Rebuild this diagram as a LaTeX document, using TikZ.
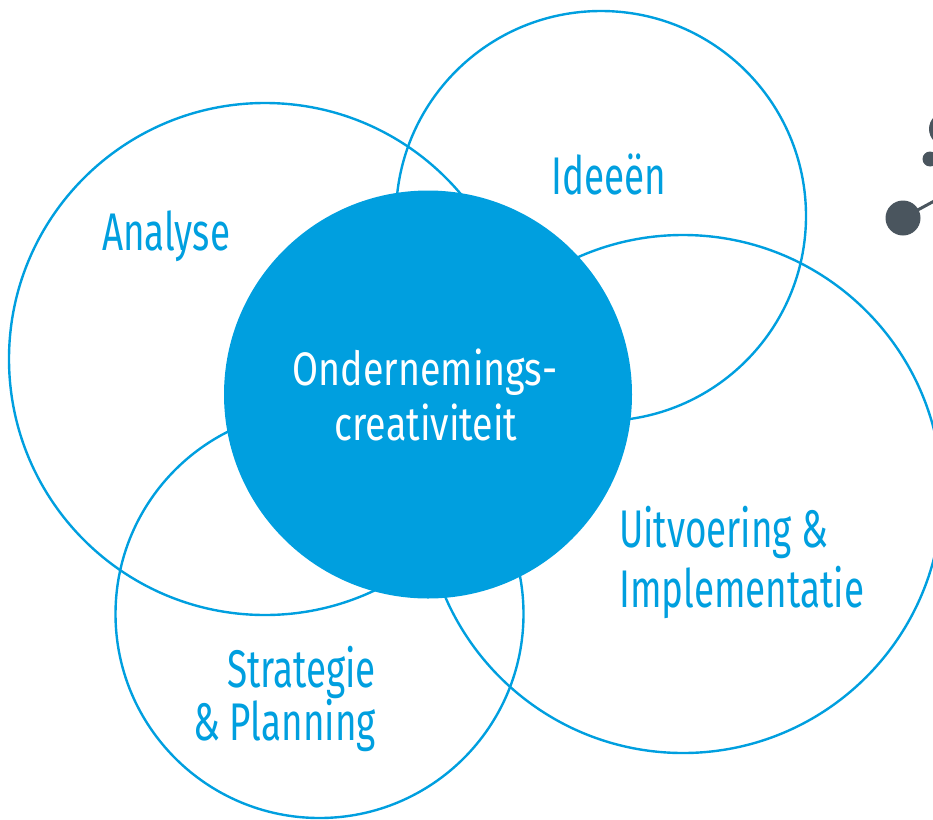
\documentclass[tikz,border=0pt]{standalone}
\usepackage{fontspec}
\setmainfont{Fira Sans}[FakeStretch=0.695]
\newfontfamily\wfont{Fira Sans}[FakeStretch=0.80]
\definecolor{cblue}{HTML}{009FDF}
\definecolor{cgray}{HTML}{4A555E}
\tikzset{
  ring/.style={draw=cblue, line width=2.4pt},
  lbl/.style={text=cblue, inner sep=0pt, font=\fontsize{53}{55}\selectfont},
  wlbl/.style={text=white, inner sep=0pt, font=\wfont\fontsize{47}{50}\selectfont},
  dot/.style={fill=cgray, draw=none},
}
\begin{document}
\begin{tikzpicture}[x=1pt,y=-1pt]
\useasboundingbox (0,0) rectangle (933,819);
\clip (0,0) rectangle (933,819);
% outline circles
\draw[ring] (265,359) circle[radius=256];
\draw[ring] (601,216) circle[radius=205];
\draw[ring] (683,494) circle[radius=259];
\draw[ring] (319.5,614) circle[radius=204];
% central circle
\fill[cblue] (428,394.5) circle[radius=204];
% labels
\node[lbl, anchor=base west] (analyse) at (102,250) {Analyse};
\node[lbl, anchor=base west] (ideeen) at (551,194) {Ideeën};
\node[wlbl, anchor=base] (ond1) at (425,385) {Ondernemings-};
\node[wlbl, anchor=base] (ond2) at (426,440) {creativiteit};
\node[lbl, anchor=base west] (uit1) at (619,547) {Uitvoering \&};
\node[lbl, anchor=base west] (uit2) at (619,607) {Implementatie};
\node[lbl, anchor=base east] (str1) at (376,687) {Strategie};
\node[lbl, anchor=base east] (str2) at (376,740) {\& Planning};
% dots at top right
\coordinate (lineend) at (960,187);
\node[dot, circle, minimum size=35pt, inner sep=0pt] (bigdot) at (903,218) {};
\draw[cgray, line width=3pt] (bigdot.center) -- (lineend);
\node[dot, circle, minimum size=15pt, inner sep=0pt] (smalldot) at (930,159) {};
\node[dot, circle, minimum size=34pt, inner sep=0pt] (partdot) at (946,129) {};
\end{tikzpicture}
\end{document}
